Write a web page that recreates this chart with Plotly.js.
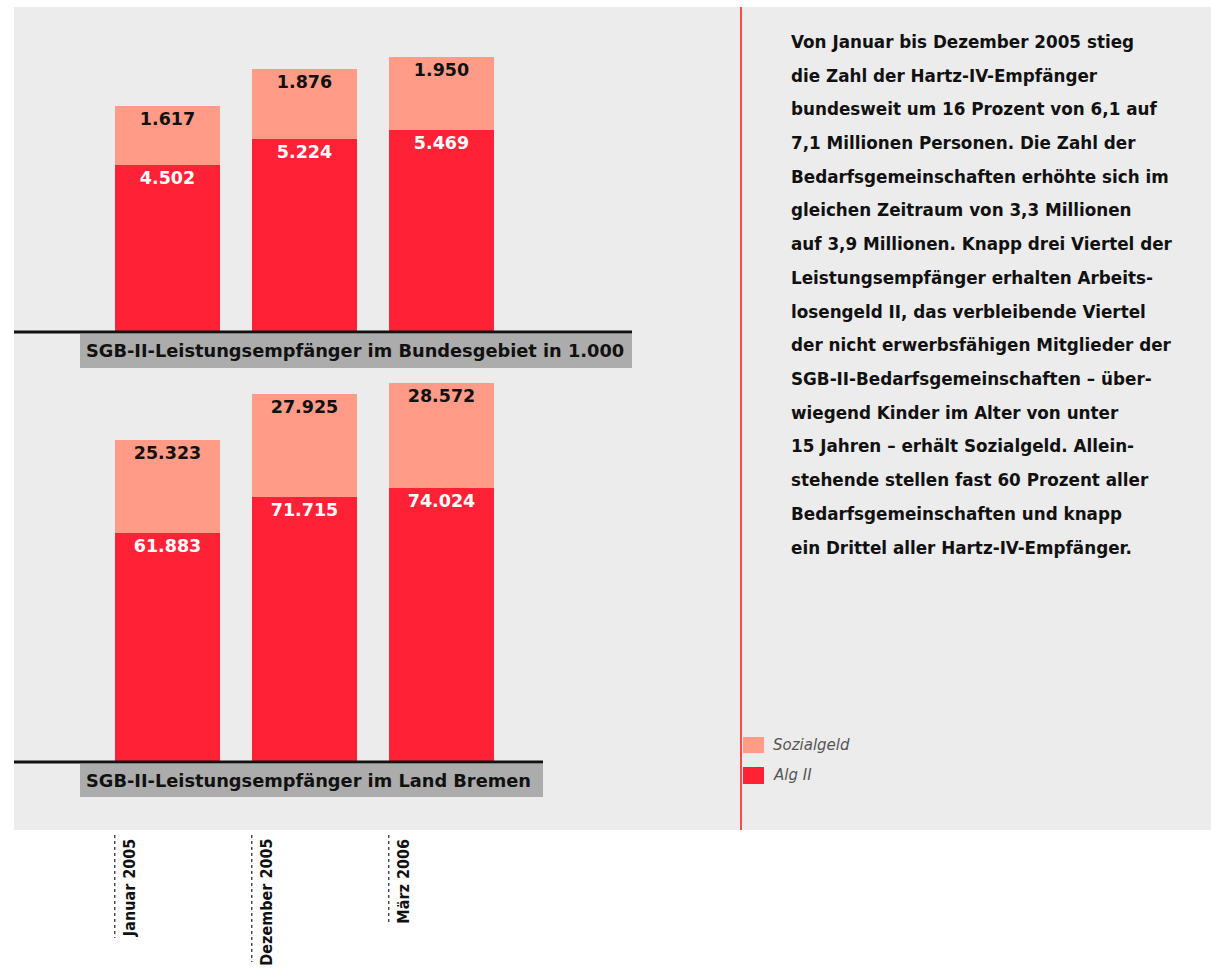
<!DOCTYPE html>
<html>
<head>
<meta charset="utf-8">
<script src="https://cdn.plot.ly/plotly-3.0.1.min.js"></script>
<style>html,body{margin:0;padding:0;background:#fff;}#chart{width:1211px;height:968px;}</style>
</head>
<body>
<div id="chart"></div>
<script>
// ---- data ----
const categories = ["Januar 2005", "Dezember 2005", "März 2006"];
const bundAlg2 = [4502, 5224, 5469];
const bundSozialgeld = [1617, 1876, 1950];
const bremenAlg2 = [61883, 71715, 74024];
const bremenSozialgeld = [25323, 27925, 28572];
const titleBund = "SGB-II-Leistungsempfänger im Bundesgebiet in 1.000";
const titleBremen = "SGB-II-Leistungsempfänger im Land Bremen";
const legendLabels = ["Sozialgeld", "Alg II"];
const paragraph = [
  "Von Januar bis Dezember 2005 stieg",
  "die Zahl der Hartz-IV-Empfänger",
  "bundesweit um 16 Prozent von 6,1 auf",
  "7,1 Millionen Personen. Die Zahl der",
  "Bedarfsgemeinschaften erhöhte sich im",
  "gleichen Zeitraum von 3,3 Millionen",
  "auf 3,9 Millionen. Knapp drei Viertel der",
  "Leistungsempfänger erhalten Arbeits-",
  "losengeld II, das verbleibende Viertel",
  "der nicht erwerbsfähigen Mitglieder der",
  "SGB-II-Bedarfsgemeinschaften – über-",
  "wiegend Kinder im Alter von unter",
  "15 Jahren – erhält Sozialgeld. Allein-",
  "stehende stellen fast 60 Prozent aller",
  "Bedarfsgemeinschaften und knapp",
  "ein Drittel aller Hartz-IV-Empfänger."
];

// ---- style ----
const W = 1211, H = 968;
const px = x => x / W;
const py = y => 1 - y / H;
const RED = "#ff2236";
const SALMON = "#ff9b86";
const idx = categories.map((c, i) => i);
const barFont = {family: "DejaVu Sans", size: 17.5, weight: "bold"};

function barTrace(vals, axis, color, textColor, name) {
  return {
    type: "bar", x: idx, y: vals, xaxis: "x", yaxis: axis, name: name,
    marker: {color: color, line: {width: 0}},
    texttemplate: "%{y:,}", textposition: "inside", insidetextanchor: "end",
    textangle: 0, constraintext: "none",
    insidetextfont: Object.assign({color: textColor}, barFont),
    hoverinfo: "skip", showlegend: false
  };
}

const data = [
  barTrace(bundAlg2, "y", RED, "#ffffff", legendLabels[1]),
  barTrace(bundSozialgeld, "y", SALMON, "#111111", legendLabels[0]),
  barTrace(bremenAlg2, "y2", RED, "#ffffff", legendLabels[1]),
  barTrace(bremenSozialgeld, "y2", SALMON, "#111111", legendLabels[0])
];

const shapes = [
  // background panel
  {type: "rect", xref: "paper", yref: "paper", x0: px(14), x1: px(1211), y0: py(830), y1: py(7),
   fillcolor: "#ececec", line: {width: 0}, layer: "below"},
  // baselines
  {type: "line", xref: "paper", yref: "paper", x0: px(14), x1: px(632), y0: py(332), y1: py(332),
   line: {color: "#111", width: 3}},
  {type: "line", xref: "paper", yref: "paper", x0: px(14), x1: px(543), y0: py(762), y1: py(762),
   line: {color: "#111", width: 3}},
  // grey title boxes
  {type: "rect", xref: "paper", yref: "paper", x0: px(80), x1: px(632), y0: py(368), y1: py(334),
   fillcolor: "#acacac", line: {width: 0}},
  {type: "rect", xref: "paper", yref: "paper", x0: px(80), x1: px(543), y0: py(797), y1: py(764),
   fillcolor: "#acacac", line: {width: 0}},
  // red vertical divider
  {type: "line", xref: "paper", yref: "paper", x0: px(741), x1: px(741), y0: py(830), y1: py(7),
   line: {color: "#ff4a4a", width: 2}},
  // legend swatches
  {type: "rect", xref: "paper", yref: "paper", x0: px(743), x1: px(764), y0: py(753), y1: py(737),
   fillcolor: SALMON, line: {width: 0}},
  {type: "rect", xref: "paper", yref: "paper", x0: px(743), x1: px(764), y0: py(784), y1: py(767),
   fillcolor: RED, line: {width: 0}}
];

// dotted leader lines beside category labels
const labelEnds = [938, 962, 924];
idx.forEach(i => {
  shapes.push({type: "line", xref: "x", yref: "paper", x0: i - 0.385, x1: i - 0.385,
    y0: py(835), y1: py(labelEnds[i]), line: {color: "#333", width: 1.3, dash: "dot"}});
});

const titleFont = {family: "DejaVu Sans", size: 17.8, color: "#111", weight: "bold"};
const annotations = [
  {xref: "paper", yref: "paper", x: px(84), y: py(351), xanchor: "left", yanchor: "middle",
   text: titleBund, showarrow: false, font: titleFont},
  {xref: "paper", yref: "paper", x: px(84), y: py(780), xanchor: "left", yanchor: "middle",
   text: titleBremen, showarrow: false, font: titleFont},
  {xref: "paper", yref: "paper", x: px(771), y: py(745), xanchor: "left", yanchor: "middle",
   text: legendLabels[0], showarrow: false, font: {family: "DejaVu Sans", size: 15, color: "#555", style: "italic"}},
  {xref: "paper", yref: "paper", x: px(771), y: py(775), xanchor: "left", yanchor: "middle",
   text: legendLabels[1], showarrow: false, font: {family: "DejaVu Sans", size: 15, color: "#555", style: "italic"}}
];

paragraph.forEach((line, k) => {
  annotations.push({xref: "paper", yref: "paper", x: px(789), y: py(42 + k * 33.7),
    xanchor: "left", yanchor: "middle", text: line, showarrow: false,
    font: {family: "DejaVu Sans", size: 16.8, color: "#111", weight: "bold"}});
});

categories.forEach((c, i) => {
  annotations.push({xref: "x", yref: "paper", x: i - 0.28, y: py(837), xanchor: "center", yanchor: "top",
    text: c, textangle: -90, showarrow: false,
    font: {family: "DejaVu Sans Condensed, Liberation Sans Narrow, DejaVu Sans", size: 16, color: "#111", weight: "bold"}});
});

const layout = {
  width: W, height: H,
  margin: {l: 0, r: 0, t: 0, b: 0, pad: 0},
  paper_bgcolor: "#ffffff", plot_bgcolor: "rgba(0,0,0,0)",
  separators: ",.",
  barmode: "stack", bargap: 0.24,
  showlegend: false,
  xaxis: {domain: [0, 1], range: [-167.5 / 137, (W - 167.5) / 137], type: "linear",
    visible: false, fixedrange: true},
  yaxis: {domain: [py(332), py(7)], range: [0, 8780], visible: false, fixedrange: true},
  yaxis2: {domain: [py(762), py(370)], range: [0, 106000], visible: false, fixedrange: true, anchor: "x"},
  shapes: shapes,
  annotations: annotations,
  font: {family: "DejaVu Sans"}
};

Plotly.newPlot("chart", data, layout, {staticPlot: true, displayModeBar: false});
</script>
</body>
</html>
